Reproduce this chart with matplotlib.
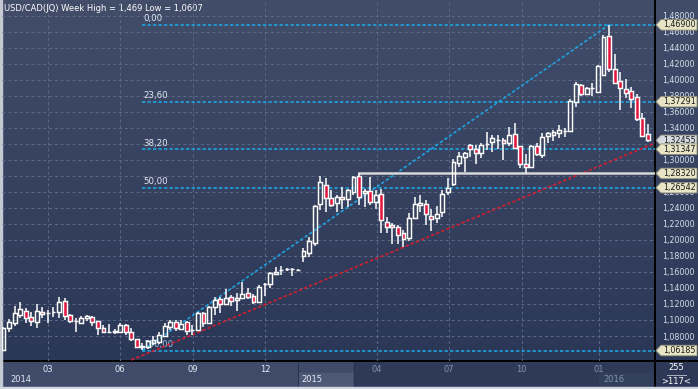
import numpy as np
import matplotlib
matplotlib.use('Agg')
import matplotlib.pyplot as plt
from matplotlib.patches import Rectangle, Polygon
from matplotlib.colors import LinearSegmentedColormap
from matplotlib.transforms import blended_transform_factory

plt.rcParams['font.family'] = ['DejaVu Sans']

# weekly USD/CAD candles (Jan 2014 .. Feb 2016)
opens = [1.0625, 1.0900, 1.0963, 1.1063, 1.1113, 1.1038, 1.0975, 1.1100, 1.1085, 1.1095,
         1.1100, 1.1238, 1.1063, 1.0985, 1.0963, 1.1025, 1.1038, 1.0988, 1.0900, 1.0848,
         1.0863, 1.0850, 1.0938, 1.0850, 1.0763, 1.0665, 1.0663, 1.0713, 1.0725, 1.0800,
         1.0913, 1.0975, 1.0888, 1.0975, 1.0873, 1.0875, 1.1088, 1.0963, 1.1163, 1.1263,
         1.1200, 1.1288, 1.1250, 1.1275, 1.1338, 1.1300, 1.1225, 1.1448, 1.1450, 1.1575,
         1.1623, 1.1636, 1.1636, 1.1623, 1.1800, 1.1838, 1.1963, 1.2450, 1.2688, 1.2525,
         1.2463, 1.2538, 1.2513, 1.2600, 1.2800, 1.2588, 1.2613, 1.2475, 1.2575, 1.2225,
         1.2188, 1.2163, 1.2088, 1.2025, 1.2275, 1.2438, 1.2450, 1.2300, 1.2275, 1.2350,
         1.2600, 1.2700, 1.2963, 1.3038, 1.3188, 1.3138, 1.3088, 1.3198, 1.3225, 1.3248,
         1.3250, 1.3213, 1.3325, 1.3175, 1.2950, 1.2913, 1.3175, 1.3063, 1.3300, 1.3313,
         1.3338, 1.3360, 1.3363, 1.3725, 1.3938, 1.3825, 1.3898, 1.3850, 1.4063, 1.4550,
         1.4138, 1.3988, 1.3888, 1.3863, 1.3788, 1.3525, 1.3325]
highs = [1.0913, 1.1013, 1.1175, 1.1225, 1.1150, 1.1100, 1.1200, 1.1163, 1.1125, 1.1163,
         1.1288, 1.1275, 1.1075, 1.1025, 1.1050, 1.1063, 1.1050, 1.0990, 1.0938, 1.0950,
         1.0888, 1.0963, 1.0950, 1.0900, 1.0765, 1.0713, 1.0750, 1.0800, 1.0850, 1.0963,
         1.1000, 1.1000, 1.1000, 1.0988, 1.0938, 1.1100, 1.1100, 1.1175, 1.1288, 1.1288,
         1.1388, 1.1313, 1.1338, 1.1475, 1.1400, 1.1325, 1.1438, 1.1463, 1.1600, 1.1663,
         1.1675, 1.1650, 1.1650, 1.1638, 1.1900, 1.2038, 1.2438, 1.2800, 1.2775, 1.2625,
         1.2563, 1.2663, 1.2638, 1.2800, 1.2832, 1.2638, 1.2788, 1.2625, 1.2638, 1.2288,
         1.2213, 1.2188, 1.2125, 1.2338, 1.2538, 1.2563, 1.2500, 1.2388, 1.2425, 1.2625,
         1.2775, 1.3013, 1.3100, 1.3100, 1.3200, 1.3188, 1.3213, 1.3350, 1.3313, 1.3313,
         1.3275, 1.3413, 1.3463, 1.3180, 1.3075, 1.3188, 1.3213, 1.3338, 1.3350, 1.3375,
         1.3438, 1.3400, 1.3763, 1.3975, 1.3950, 1.3913, 1.3963, 1.4188, 1.4563, 1.4690,
         1.4325, 1.4100, 1.4013, 1.3913, 1.3825, 1.3588, 1.3450]
lows = [1.0607, 1.0850, 1.0925, 1.1025, 1.0963, 1.0925, 1.0900, 1.1025, 1.0963, 1.1038,
        1.1025, 1.1000, 1.0963, 1.0850, 1.0950, 1.0988, 1.0925, 1.0813, 1.0838, 1.0838,
        1.0825, 1.0838, 1.0813, 1.0738, 1.0650, 1.0619, 1.0638, 1.0688, 1.0700, 1.0788,
        1.0875, 1.0863, 1.0875, 1.0813, 1.0813, 1.0863, 1.0913, 1.0950, 1.1063, 1.1088,
        1.1188, 1.1175, 1.1113, 1.1263, 1.1263, 1.1200, 1.1213, 1.1300, 1.1400, 1.1563,
        1.1563, 1.1613, 1.1550, 1.1613, 1.1725, 1.1788, 1.1925, 1.2375, 1.2350, 1.2413,
        1.2350, 1.2388, 1.2413, 1.2563, 1.2438, 1.2413, 1.2438, 1.2388, 1.2088, 1.2088,
        1.1950, 1.1950, 1.1913, 1.1988, 1.2263, 1.2350, 1.2188, 1.2113, 1.2213, 1.2288,
        1.2563, 1.2675, 1.2913, 1.2850, 1.3038, 1.2950, 1.3025, 1.3125, 1.3100, 1.3138,
        1.3000, 1.3175, 1.3138, 1.2900, 1.2838, 1.2900, 1.3050, 1.3025, 1.3213, 1.3238,
        1.3275, 1.3288, 1.3350, 1.3663, 1.3800, 1.3813, 1.3800, 1.3838, 1.4050, 1.4100,
        1.3950, 1.3625, 1.3775, 1.3650, 1.3488, 1.3288, 1.3225]
closes = [1.0900, 1.0975, 1.1088, 1.1138, 1.1025, 1.0988, 1.1113, 1.1075, 1.1090, 1.1100,
          1.1225, 1.1050, 1.0988, 1.0990, 1.1025, 1.1050, 1.0975, 1.0900, 1.0850, 1.0852,
          1.0850, 1.0938, 1.0850, 1.0763, 1.0663, 1.0670, 1.0738, 1.0750, 1.0813, 1.0925,
          1.0975, 1.0900, 1.0950, 1.0863, 1.0877, 1.1088, 1.0963, 1.1163, 1.1250, 1.1200,
          1.1275, 1.1238, 1.1275, 1.1325, 1.1288, 1.1225, 1.1413, 1.1452, 1.1588, 1.1600,
          1.1627, 1.1639, 1.1639, 1.1627, 1.1863, 1.1988, 1.2425, 1.2725, 1.2525, 1.2438,
          1.2538, 1.2513, 1.2625, 1.2788, 1.2538, 1.2613, 1.2475, 1.2563, 1.2250, 1.2163,
          1.2163, 1.2063, 1.2013, 1.2275, 1.2450, 1.2463, 1.2325, 1.2263, 1.2325, 1.2575,
          1.2650, 1.2975, 1.3050, 1.3088, 1.3138, 1.3088, 1.3188, 1.3202, 1.3275, 1.3252,
          1.3213, 1.3313, 1.3150, 1.2950, 1.2913, 1.3175, 1.3075, 1.3288, 1.3338, 1.3350,
          1.3375, 1.3365, 1.3738, 1.3950, 1.3825, 1.3900, 1.3902, 1.4175, 1.4538, 1.4138,
          1.3963, 1.3900, 1.3838, 1.3763, 1.3513, 1.3300, 1.32455]

# fibonacci retracement drawn from the low (week 25) to the high (week 109)
fib_start, fib_end = 25, 109
fib_labels = ['0,00', '23,60', '38,20', '50,00', '100,00']
fib_prices = [1.46900, 1.37291, 1.31347, 1.26542, 1.06185]

# support trend line and horizontal resistance
trend_weeks = [23, 117.3]
trend_prices = [1.0500, 1.3213]
resist_week = 64
resist_price = 1.28320
last_price = 1.32455

month_ticks = [8, 20.9, 34.1, 47.1, 67.15, 80.2, 93.3, 107.2]
month_labels = ['03', '06', '09', '12', '04', '07', '10', '01']
year_starts = [1.3, 53.7, 107.9]
year_labels = ['2014', '2015', '2016']

W, H = 698, 389
fig = plt.figure(figsize=(W / 100, H / 100), dpi=100)

# full-figure pixel canvas for the terminal chrome
bg = fig.add_axes([0, 0, 1, 1])
bg.set_xlim(0, W)
bg.set_ylim(H, 0)
bg.axis('off')
grad = LinearSegmentedColormap.from_list('bgrad', ['#414d69', '#2b3756'])
bg.imshow(np.linspace(0, 1, 256)[:, None], cmap=grad, extent=(2, W, 361, 0), aspect='auto', zorder=0)
bg.add_patch(Rectangle((2, 361), 352, 26, color='#3f4b69', zorder=1))
bg.add_patch(Rectangle((298, 373), 56, 14, color='#4d5975', zorder=1))
bg.add_patch(Rectangle((354, 361), 301, 26, color='#2e3a57', zorder=1))
bg.add_patch(Rectangle((599, 373), 56, 14, color='#33405c', zorder=1))
bg.add_patch(Rectangle((655, 361), 43, 26, color='#2c3856', zorder=1))
bg.plot([298, 298], [361, 387], color='#2a3450', lw=0.8, zorder=2)
bg.plot([354, 354], [361, 387], color='#2a3450', lw=0.8, zorder=2)
bg.plot([2, W], [361, 361], color='black', lw=1.4, zorder=3)
bg.plot([655, 655], [0, 387], color='black', lw=1.4, zorder=3)
bg.add_patch(Rectangle((0, 0), 2, H, color='#c4c9d2', zorder=4))
bg.add_patch(Rectangle((0, 387), W, 2, color='#d2d6de', zorder=4))
bg.text(4, 8, 'USD/CAD(JQ) Week High = 1,469 Low = 1,0607', color='white',
        fontsize=6.0, va='center', ha='left', zorder=5)
bg.text(676, 368, '255', color='white', fontsize=6, ha='center', va='center', zorder=5)
bg.plot([667, 686], [374.5, 374.5], color='#aab2c2', lw=0.7, zorder=5)
bg.text(676, 381, '>117<', color='white', fontsize=6, ha='center', va='center', zorder=5)

ax = fig.add_axes([2 / W, 28 / H, 653 / W, 361 / H])
ax.set_facecolor('none')
ax.set_xlim(-0.27, 117.28)
ax.set_ylim(1.5 - 361 / 800, 1.5)
for s in ax.spines.values():
    s.set_visible(False)

yt = np.arange(1.08, 1.4801, 0.02)
ax.yaxis.tick_right()
ax.set_yticks(yt)
# 1,28000 and 1,32000 sit fully behind the price tags, so leave them blank
ax.set_yticklabels(['' if abs(v - 1.28) < 1e-6 or abs(v - 1.32) < 1e-6
                    else f'{v:.5f}'.replace('.', ',') for v in yt])
ax.tick_params(axis='y', length=0, pad=5, labelsize=5.8, labelcolor='#d4ddec')
ax.set_xticks(month_ticks)
ax.set_xticklabels(month_labels)
ax.tick_params(axis='x', length=0, pad=3, labelsize=6)
for i, lab in enumerate(ax.get_xticklabels()):
    lab.set_color('#e6ecf6' if i < 4 else '#8492aa')
ax.grid(True, color='#5b6a86', linestyle=(0, (3, 3)), linewidth=0.7)
ax.set_axisbelow(True)

trans = blended_transform_factory(ax.transData, bg.transData)
for i, (xs, lab) in enumerate(zip(year_starts, year_labels)):
    ax.text(xs, 380, lab, transform=trans, fontsize=6, ha='left', va='center',
            color='#e6ecf6' if i < 2 else '#8492aa', clip_on=False)

# candles
o = np.array(opens)
h = np.array(highs)
l = np.array(lows)
c = np.array(closes)
x = np.arange(len(o))
up = c >= o
top = np.maximum(o, c)
bot = np.minimum(o, c)
ax.vlines(x, top, h, color='white', lw=1.1, zorder=3)
ax.vlines(x, l, bot, color='white', lw=1.1, zorder=3)
ax.bar(x, np.maximum(top - bot, 0.0005), bottom=bot, width=0.7,
       color=['none' if u else '#e3163e' for u in up], edgecolor='white', linewidth=1.05, zorder=4)

# fib levels
fib_col = '#1ea3e0'
for p, lab in zip(fib_prices, fib_labels):
    ax.plot([fib_start, 117.28], [p, p], color=fib_col, lw=1.2, linestyle=(0, (2, 1.3)), zorder=2)
    ax.text(fib_start + 0.1, p + 0.002, lab, color='#e6ecf6' if lab != '100,00' else '#9cc4ea',
            fontsize=6.2, ha='left', va='bottom', zorder=2)
ax.plot([fib_start, fib_end], [fib_prices[-1], fib_prices[0]], color=fib_col, lw=1.2,
        linestyle=(0, (2, 1.3)), zorder=2)
ax.plot(trend_weeks, trend_prices, color='#d41e2e', lw=1.2, linestyle=(0, (2, 1.3)), zorder=2)
ax.plot([resist_week, 117.28], [resist_price, resist_price], color='#d6d6d6', lw=1.8, zorder=2)

# price tags on the right scale: x in figure pixels, y in price
tag_tr = blended_transform_factory(bg.transData, ax.transData)
dy = 5.3 / 800
tags = [(1.46900, '#e8e4c6'), (1.37291, '#e8e4c6'), (last_price, '#d6d9e0'), (1.31347, '#e8e4c6'),
        (resist_price, '#e8e4c6'), (1.26542, '#e8e4c6'), (fib_prices[-1], '#e8e4c6')]
for k, (v, fc) in enumerate(tags):
    pts = [(656, v), (661, v + dy), (697, v + dy), (697, v - dy), (661, v - dy)]
    ax.add_patch(Polygon(pts, closed=True, transform=tag_tr, fc=fc, ec='#8e8c78', lw=0.6,
                         clip_on=False, zorder=6 + 2 * k))
    ax.text(663, v, f'{v:.5f}'.replace('.', ','), transform=tag_tr, fontsize=5.8, color='#1a1a1a',
            ha='left', va='center', clip_on=False, zorder=7 + 2 * k)

fig.savefig('out.png', dpi=100)
